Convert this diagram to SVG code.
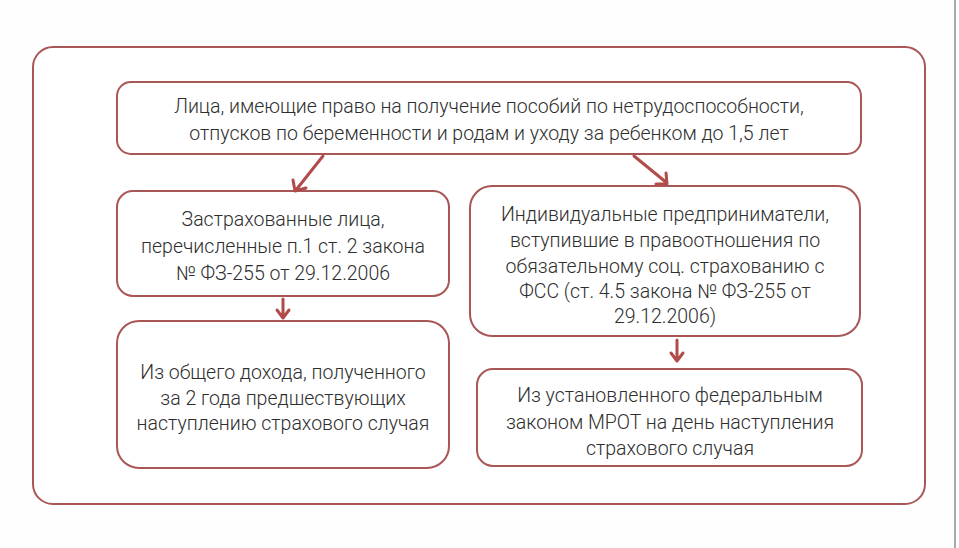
<svg xmlns="http://www.w3.org/2000/svg" width="959" height="548" viewBox="0 0 959 548">
<defs>
<style>
.box{fill:#fff;stroke:#a85656;stroke-width:2}
.t{font-family:Roboto,"Liberation Sans",sans-serif;font-weight:300;font-size:19.5px;fill:#2e2e2e;text-anchor:middle}
.c{stroke:#b24c4a;stroke-width:3;fill:none;stroke-linecap:round;stroke-linejoin:round}
</style>
</defs>
<rect width="959" height="548" fill="#fefefe"/>
<line x1="955" y1="0" x2="955" y2="548" stroke="#a9a9a9" stroke-width="2"/>
<g id="outer"><rect class="box" x="33" y="47" width="892" height="457" rx="20"/></g>
<g id="top">
<rect class="box" x="117" y="82" width="744" height="72" rx="14"/>
<text class="t" x="489" y="113">Лица, имеющие право на получение пособий по нетрудоспособности,</text>
<text class="t" x="489" y="140">отпусков по беременности и родам и уходу за ребенком до 1,5 лет</text>
</g>
<g id="insured">
<rect class="box" x="117" y="191" width="332" height="105" rx="16"/>
<text class="t" x="283" y="226">Застрахованные лица,</text>
<text class="t" x="283" y="253">перечисленные п.1 ст. 2 закона</text>
<text class="t" x="283" y="280">№ ФЗ-255 от 29.12.2006</text>
</g>
<g id="ip">
<rect class="box" x="470" y="186" width="390" height="150" rx="22"/>
<text class="t" x="665" y="221">Индивидуальные предприниматели,</text>
<text class="t" x="665" y="247">вступившие в правоотношения по</text>
<text class="t" x="665" y="273">обязательному соц. страхованию с</text>
<text class="t" x="665" y="298">ФСС (ст. 4.5 закона № ФЗ-255 от</text>
<text class="t" x="665" y="323">29.12.2006)</text>
</g>
<g id="income">
<rect class="box" x="117" y="321" width="332" height="147" rx="22"/>
<text class="t" x="283" y="379">Из общего дохода, полученного</text>
<text class="t" x="283" y="405">за 2 года предшествующих</text>
<text class="t" x="283" y="430">наступлению страхового случая</text>
</g>
<g id="mrot">
<rect class="box" x="477" y="369" width="385" height="97" rx="16"/>
<text class="t" x="670" y="402">Из установленного федеральным</text>
<text class="t" x="670" y="429">законом МРОТ на день наступления</text>
<text class="t" x="670" y="455">страхового случая</text>
</g>
<g id="connectors">
<path class="c" d="M323 156 L296 190 M293 180 L295 191 L306 188"/>
<path class="c" d="M634 156 L667 183 M656 184 L667 184 L666 173"/>
<path class="c" d="M283 299 L283 318 M277 310 L283 318 L289 310"/>
<path class="c" d="M677 340 L677 361 M671 353 L677 361 L683 353"/>
</g>
</svg>
